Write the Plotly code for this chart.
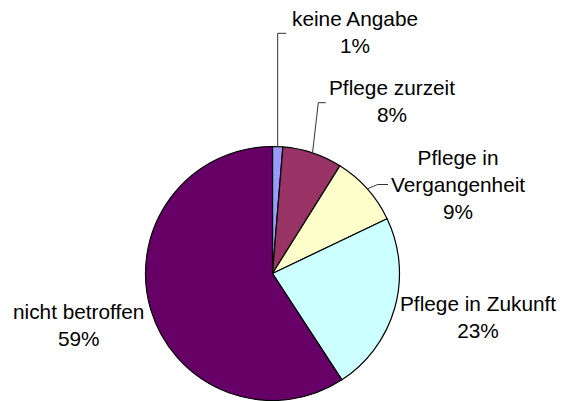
import math
import plotly.graph_objects as go

labels = ["keine Angabe", "Pflege zurzeit", "Pflege in Vergangenheit", "Pflege in Zukunft", "nicht betroffen"]
label_text = ["keine Angabe", "Pflege zurzeit", "Pflege in<br>Vergangenheit", "Pflege in Zukunft", "nicht betroffen"]
values = [1.3, 7.6, 9.0, 22.9, 59.2]
colors = ["#9999FF", "#993366", "#FFFFCC", "#CCFFFF", "#660066"]

W, H = 563, 401
CX, CY, R = 272.5, 273.5, 127.0
FONT = dict(family="Liberation Sans, Arial, sans-serif", size=20.8, color="#000000")

fig = go.Figure(go.Pie(
    labels=labels, values=values, sort=False, direction="clockwise", rotation=0,
    marker=dict(colors=colors, line=dict(color="#000000", width=1.2)),
    textinfo="none", hoverinfo="label+percent",
    domain=dict(x=[(CX - R) / W, (CX + R) / W], y=[(H - CY - R) / H, (H - CY + R) / H]),
))

total = sum(values)
pcts = [round(100 * v / total) for v in values]

# label placement (pixels, centre of text block)
label_pos = [(354.5, 32), (392, 100.5), (458, 184), (478.3, 317), (78.2, 324.5)]
for name, p, (x, y) in zip(label_text, pcts, label_pos):
    fig.add_annotation(x=x / W, y=1 - y / H, xref="paper", yref="paper",
                       text=f"{name}<br>{p}%", showarrow=False, font=FONT,
                       xanchor="center", yanchor="middle", align="center")

# leader lines: from slice edge at mid angle to elbow and end points
elbows = {0: (None, 33.3, 286.0), 1: (318.3, 102.7, 325.7), 2: (377.5, 184.5, 388.0)}
cum = 0.0
for i, v in enumerate(values):
    mid = (cum + v / 2) / total
    cum += v
    if i not in elbows:
        continue
    a = 2 * math.pi * mid
    ex, ey = CX + R * math.sin(a), CY - R * math.cos(a)
    bx, by, endx = elbows[i]
    if bx is None:
        bx = ex
    pts = [(ex, ey), (bx, by), (endx, by)]
    path = "M " + " L ".join(f"{px / W:.5f},{1 - py / H:.5f}" for px, py in pts)
    fig.add_shape(type="path", path=path, xref="paper", yref="paper",
                  line=dict(color="#333333", width=1))

fig.update_layout(width=W, height=H, margin=dict(l=0, r=0, t=0, b=0),
                  paper_bgcolor="white", plot_bgcolor="white", showlegend=False)
fig.write_html("out.html", config={"displayModeBar": False},
               post_script="document.body.style.margin='0';")
